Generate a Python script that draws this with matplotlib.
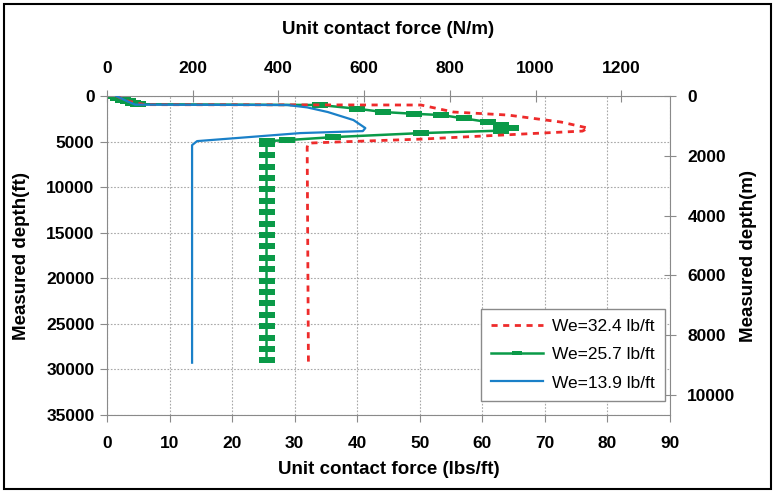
import matplotlib
matplotlib.use("Agg")
import matplotlib.pyplot as plt
from matplotlib.patches import Rectangle

plt.rcParams['font.family'] = ['Liberation Sans', 'DejaVu Sans']

# unit contact force (lbs/ft) vs measured depth (ft)
red_force = [1.5, 3.0, 5.5, 6.1, 50.2, 55.4, 64.1, 72.6, 76.9, 76.0, 69.4, 50.2, 36.2, 32.2, 32.0, 32.2]
red_depth = [0, 500, 880, 950, 990, 1760, 2090, 2860, 3520, 3850, 4070, 4730, 5060, 5170, 5610, 29260]

green_force = [1.0, 1.8, 2.6, 3.4, 4.2, 5.0, 34.1, 40.0, 44.2, 49.0, 53.4, 57.0, 60.9, 63.0, 64.6, 63.0,
               50.2, 36.2, 28.8, 25.5,
               25.5, 25.5, 25.5, 25.5, 25.5, 25.5, 25.5, 25.5, 25.5, 25.5,
               25.5, 25.5, 25.5, 25.5, 25.5, 25.5, 25.5, 25.5, 25.5, 25.5]
green_depth = [0, 200, 400, 600, 800, 900, 990, 1400, 1760, 1950, 2090, 2450, 2860, 3200, 3520, 3800,
               4070, 4510, 4840, 4950,
               5250, 6500, 7750, 9000, 10250, 11500, 12750, 14000, 15250, 16500,
               17750, 19000, 20250, 21500, 22750, 24000, 25250, 26500, 27750, 29000]

blue_force = [1.5, 3.0, 4.5, 28.8, 32.0, 35.3, 39.4, 41.3, 40.9, 30.9, 14.4, 13.6, 13.6]
blue_depth = [0, 500, 950, 990, 1250, 1760, 2640, 3520, 3850, 4070, 4950, 5390, 29260]

labels = ["We=32.4 lb/ft", "We=25.7 lb/ft", "We=13.9 lb/ft"]

LBF_TO_NM = 14.5939
FT_TO_M = 0.3048

fig = plt.figure(figsize=(7.75, 4.93), dpi=100)
ax = fig.add_axes([107 / 775, 78 / 493, 563 / 775, 319 / 493])

ax.plot(red_force, red_depth, color='#ee2b2b', lw=2, linestyle=(0, (2.2, 2)), zorder=3, label=labels[0])
rect = [(-1, -0.36), (1, -0.36), (1, 0.36), (-1, 0.36), (-1, -0.36)]
ax.plot(green_force, green_depth, color='#0a9a48', lw=1.8, marker=rect, markersize=11,
        markeredgewidth=0, zorder=2, label=labels[1])
ax.plot(blue_force, blue_depth, color='#1a80c8', lw=1.6, zorder=4, label=labels[2])

ax.set_xlim(0, 90)
ax.set_ylim(35000, 0)
ax.set_xticks(range(0, 91, 10))
ax.set_yticks(range(0, 35001, 5000))
ax.grid(True, color='#a8a8a8', linestyle=(0, (1.5, 1.5)), lw=0.8)

for s in ax.spines.values():
    s.set_color('#8a8a8a')
ax.tick_params(axis='x', direction='out', length=5, color='#8a8a8a', pad=10, labelsize=12.5)
ax.tick_params(axis='y', direction='out', length=5, color='#8a8a8a', pad=4, labelsize=12.5)
for t in ax.get_xticklabels() + ax.get_yticklabels():
    t.set_fontweight('bold')

top = ax.secondary_xaxis('top', functions=(lambda x: x * LBF_TO_NM, lambda x: x / LBF_TO_NM))
top.set_xticks(range(0, 1201, 200))
top.tick_params(direction='inout', length=9, color='#8a8a8a', pad=10, labelsize=12.5)
for t in top.get_xticklabels():
    t.set_fontweight('bold')
top.spines['top'].set_visible(False)

right = ax.secondary_yaxis('right', functions=(lambda y: y * FT_TO_M, lambda y: y / FT_TO_M))
right.set_yticks(range(0, 10001, 2000))
right.tick_params(direction='inout', length=9, color='#8a8a8a', pad=8, labelsize=12.5)
for t in right.get_yticklabels():
    t.set_fontweight('bold')
right.spines['right'].set_visible(False)

xl = ax.set_xlabel("Unit contact force (lbs/ft)", fontsize=13.5, fontweight='bold')
ax.xaxis.set_label_coords(0.5, -0.172)
xl.set_va('center')
yl = ax.set_ylabel("Measured depth(ft)", fontsize=13.5, fontweight='bold')
ax.yaxis.set_label_coords(-0.151, 0.5)
yl.set_va('center')
ax.text(0.5, 1.207, "Unit contact force (N/m)", transform=ax.transAxes, fontsize=13.5,
        fontweight='bold', ha='center', va='center')
ax.text(1.139, 0.5, "Measured depth(m)", transform=ax.transAxes, fontsize=13.5,
        fontweight='bold', ha='center', va='center', rotation=90)

leg = ax.legend(loc='lower right', bbox_to_anchor=(0.991, 0.044), borderaxespad=0,
                fontsize=12.5, fancybox=False, edgecolor='#8a8a8a', framealpha=1,
                handlelength=3.0, handletextpad=0.5, labelspacing=0.75, borderpad=0.6,
                markerscale=0.6)
leg.get_frame().set_linewidth(1)

fig.patches.append(Rectangle((4 / 775, 4 / 493), 767 / 775, 485 / 493, transform=fig.transFigure,
                             fill=False, edgecolor='black', lw=1.5))

fig.savefig("out.png", dpi=100)
